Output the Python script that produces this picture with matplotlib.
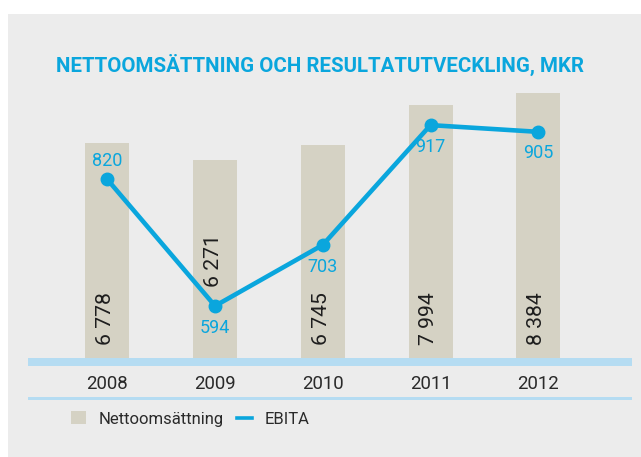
import matplotlib
matplotlib.use("Agg")
import matplotlib.pyplot as plt
from matplotlib.patches import Rectangle, Patch
from matplotlib.lines import Line2D
from matplotlib import font_manager

# ---- data ----
years = ["2008", "2009", "2010", "2011", "2012"]
nettoomsattning = [6778, 6271, 6745, 7994, 8384]
nettoomsattning_labels = ["6 778", "6 271", "6 745", "7 994", "8 384"]
ebita = [820, 594, 703, 917, 905]
title = "NETTOOMSÄTTNING OCH RESULTATUTVECKLING, MKR"
legend_labels = ["Nettoomsättning", "EBITA"]

# ---- styling ----
BLUE = "#0aa6dd"
BAR = "#d5d2c4"
PANEL = "#ececec"
BAND = "#b5dcf2"
DARK = "#1e1e1e"

names = {f.name for f in font_manager.fontManager.ttflist}
FONT = "Roboto" if "Roboto" in names else "DejaVu Sans"
plt.rcParams["font.family"] = [FONT, "DejaVu Sans"]

W, H = 641, 457
fig = plt.figure(figsize=(W / 100, H / 100), dpi=100, facecolor="white")

def fx(px):
    return px / W

def fy(py):
    return (H - py) / H

# background panel
fig.add_artist(Rectangle((fx(8), 0), 1 - fx(8), fy(14), transform=fig.transFigure,
                         facecolor=PANEL, edgecolor="none", zorder=0))
# light blue band at bar base and thin line under years
fig.add_artist(Rectangle((fx(28), fy(365.7)), fx(604), (365.7 - 358) / H,
                         transform=fig.transFigure, facecolor=BAND, edgecolor="none", zorder=1))
fig.add_artist(Rectangle((fx(28), fy(399.7)), fx(604), 2.4 / H,
                         transform=fig.transFigure, facecolor=BAND, edgecolor="none", zorder=1))

ax = fig.add_axes([fx(28), fy(358), fx(604), (358 - 80) / H])
ax.set_facecolor("none")
x = list(range(len(years)))
ax.bar(x, nettoomsattning, width=0.408, color=BAR, zorder=2)
ax.set_xlim(-0.736, 4.870)
ax.set_ylim(0, 8784)
ax.set_xticks(x)
ax.set_xticklabels(years, fontsize=13.4, color="#2a2a2a")
ax.tick_params(axis="x", length=0, pad=12.5)
ax.set_yticks([])
for s in ax.spines.values():
    s.set_visible(False)

# bar value labels (rotated)
bar_label_base = [410, 2243, 410, 410, 410]
for xi, lab, b in zip(x, nettoomsattning_labels, bar_label_base):
    ax.text(xi - 0.015, b, lab, rotation=90, ha="center", va="bottom",
            fontsize=15.3, color=DARK, zorder=3)

ax2 = ax.twinx()
ax2.set_ylim(501, 997.6)
ax2.set_yticks([])
for s in ax2.spines.values():
    s.set_visible(False)
ax2.plot(x, ebita, color=BLUE, lw=3.3, marker="o", ms=9, solid_capstyle="round", zorder=4)
ebita_offsets = [18, -22, -22, -22, -21]
for xi, v, off in zip(x, ebita, ebita_offsets):
    ax2.annotate(str(v), (xi, v), xytext=(0, off * 0.72), textcoords="offset points",
                 ha="center", va="center", fontsize=13.0, color=BLUE)

fig.text(fx(320.5), fy(64.5), title, ha="center", va="center", fontsize=14.8,
         fontweight="bold", color=BLUE)

handles = [Patch(facecolor=BAR, edgecolor="none"),
           Line2D([0], [0], color=BLUE, lw=2.6)]
fig.legend(handles, legend_labels, loc="center left", bbox_to_anchor=(fx(56), fy(419)),
           ncol=2, frameon=False, handlelength=0.9, handleheight=0.8,
           handletextpad=0.75, columnspacing=0.8, labelcolor="#2a2a2a",
           prop={"size": 12})

fig.savefig("out.png", dpi=100, facecolor="white")
